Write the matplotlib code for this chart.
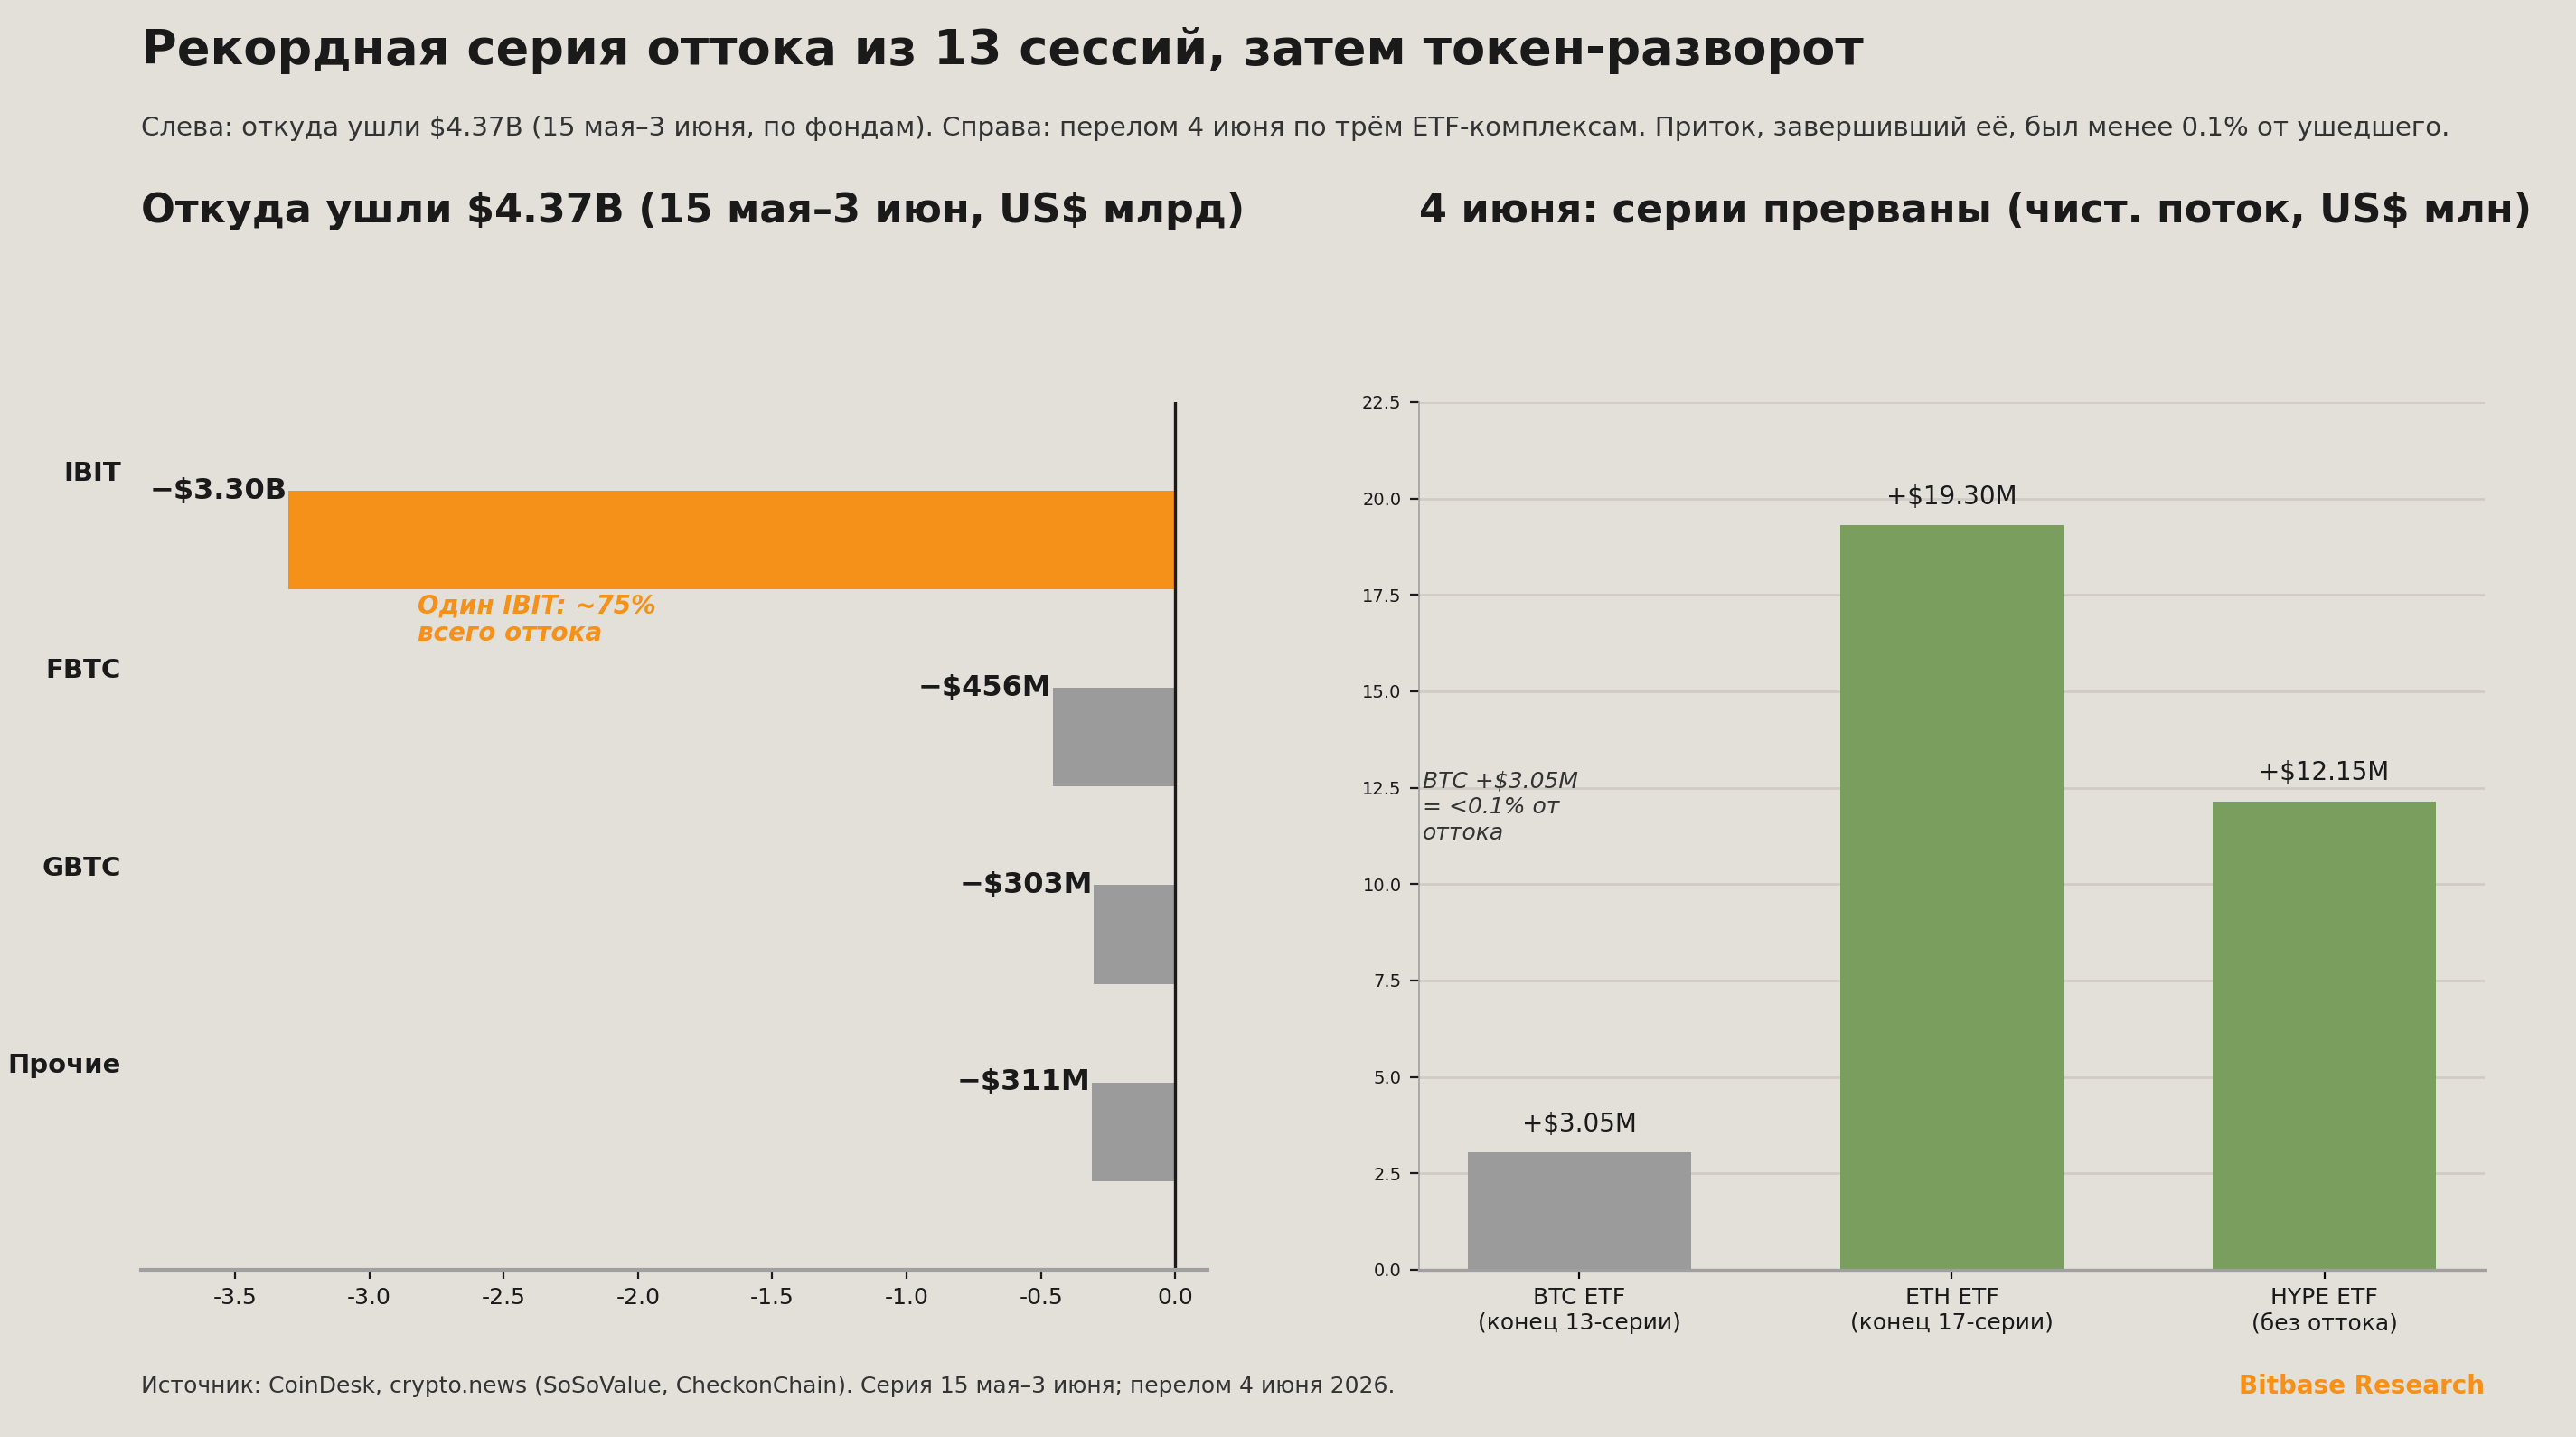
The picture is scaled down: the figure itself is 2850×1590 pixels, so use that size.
import numpy as np
import matplotlib.pyplot as plt

plt.rcParams['font.family'] = ['DejaVu Sans']
plt.rcParams['text.parse_math'] = False
plt.rcParams['axes.unicode_minus'] = False

BG = '#E3DFD9'
ORANGE = '#F59018'
GRAY = '#9B9B9B'
GREEN = '#7A9E5E'
DARK = '#1A1A1A'

# left panel: outflows by fund, US$ bn
funds = ['IBIT', 'FBTC', 'GBTC', 'Прочие']
outflow_bn = [-3.30, -0.456, -0.303, -0.311]
outflow_labels = ['−$3.30B', '−$456M', '−$303M', '−$311M']
fund_colors = [ORANGE, GRAY, GRAY, GRAY]

# right panel: June 4 net flows, US$ mn
etfs = ['BTC ETF\n(конец 13-серии)', 'ETH ETF\n(конец 17-серии)', 'HYPE ETF\n(без оттока)']
netflow_mn = [3.05, 19.30, 12.15]
netflow_labels = ['+$3.05M', '+$19.30M', '+$12.15M']
etf_colors = [GRAY, GREEN, GREEN]

fig = plt.figure(figsize=(14.25, 7.95), dpi=200, facecolor=BG)

LX = 0.0548
fig.text(LX, 0.965, 'Рекордная серия оттока из 13 сессий, затем токен-разворот',
         fontsize=19.5, fontweight='bold', color=DARK, va='center')
fig.text(LX, 0.911, 'Слева: откуда ушли $4.37B (15 мая–3 июня, по фондам). Справа: перелом 4 июня по трём ETF-комплексам. Приток, завершивший её, был менее 0.1% от ушедшего.',
         fontsize=10.55, color='#333333', va='center')
fig.text(LX, 0.853, 'Откуда ушли $4.37B (15 мая–3 июн, US$ млрд)',
         fontsize=16, fontweight='bold', color=DARK, va='center')
fig.text(0.551, 0.853, '4 июня: серии прерваны (чист. поток, US$ млн)',
         fontsize=16, fontweight='bold', color=DARK, va='center')
fig.text(LX, 0.035, 'Источник: CoinDesk, crypto.news (SoSoValue, CheckonChain). Серия 15 мая–3 июня; перелом 4 июня 2026.',
         fontsize=9, color='#333333', va='center')
fig.text(0.9645, 0.035, 'Bitbase Research', fontsize=10, fontweight='bold',
         color=ORANGE, va='center', ha='right')

# ---- left: horizontal bars
ax1 = fig.add_axes([0.0547, 0.1164, 0.4141, 0.6038], facecolor=BG)
ypos = np.arange(len(funds))
bar_y = ypos + 0.35
ax1.barh(bar_y, outflow_bn, height=0.5, color=fund_colors)
for y, v, lab in zip(bar_y, outflow_bn, outflow_labels):
    ax1.text(v - 0.005, y - 0.25, lab, ha='right', va='center',
             fontsize=11.5, fontweight='bold', color=DARK)
ax1.axvline(0, color=DARK, lw=1.2)
ax1.text(-2.82, 0.62, 'Один IBIT: ~75%\nвсего оттока', color=ORANGE,
         fontsize=10, fontweight='bold', fontstyle='italic', va='top', ha='left',
         linespacing=1.1)
ax1.set_yticks(ypos)
ax1.set_yticklabels(funds, fontsize=10.5, fontweight='bold', color=DARK)
ax1.tick_params(axis='y', length=0, pad=8)
ax1.set_ylim(4.05, -0.35)
ax1.set_xlim(-3.85, 0.12)
ax1.set_xticks(np.arange(-3.5, 0.01, 0.5))
ax1.tick_params(axis='x', labelsize=9, colors=DARK)
for s in ['top', 'right', 'left']:
    ax1.spines[s].set_visible(False)
ax1.spines['bottom'].set_color('#A0A0A0')
ax1.spines['bottom'].set_linewidth(1.5)

# ---- right: vertical bars
ax2 = fig.add_axes([0.5509, 0.1164, 0.4136, 0.6038], facecolor=BG)
xpos = np.arange(len(etfs))
ax2.bar(xpos, netflow_mn, width=0.6, color=etf_colors, zorder=2)
for x, v, lab in zip(xpos, netflow_mn, netflow_labels):
    ax2.text(x, v + 0.4, lab, ha='center', va='bottom', fontsize=10, color=DARK)
ax2.text(-0.42, 12.95, 'BTC +$3.05M\n= <0.1% от\nоттока', fontsize=9,
         fontstyle='italic', color='#333333', va='top', ha='left', linespacing=1.25)
ax2.set_xticks(xpos)
ax2.set_xticklabels(etfs, fontsize=9, color=DARK)
ax2.set_xlim(-0.43, 2.43)
ax2.set_ylim(0, 22.5)
ax2.set_yticks(np.arange(0, 22.6, 2.5))
ax2.tick_params(axis='y', labelsize=7, colors=DARK)
ax2.grid(axis='y', color='#D0CBC5', lw=1, zorder=0)
ax2.set_axisbelow(True)
for s in ['top', 'right']:
    ax2.spines[s].set_visible(False)
ax2.spines['left'].set_color('#A0A0A0')
ax2.spines['left'].set_linewidth(0.6)
ax2.spines['bottom'].set_color('#A0A0A0')
ax2.spines['bottom'].set_linewidth(1.2)

fig.savefig('out.png', dpi=200, facecolor=BG)
